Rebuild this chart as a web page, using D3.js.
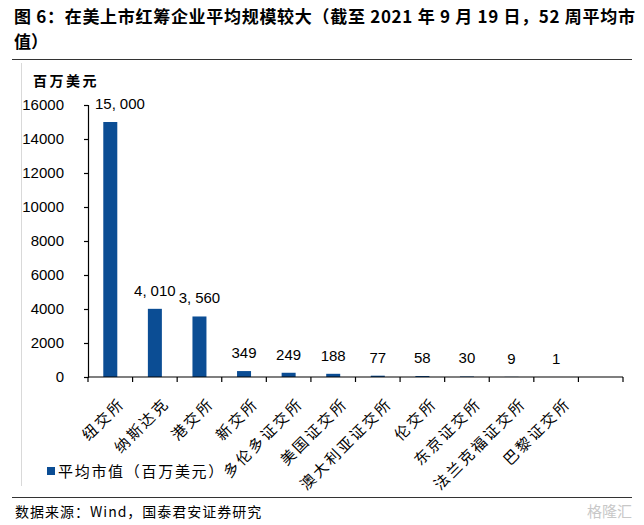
<!DOCTYPE html>
<html><head><meta charset="utf-8">
<script src="https://cdn.jsdelivr.net/npm/d3@7"></script>
<style>
body{margin:0;background:#fff;}
svg{display:block;}
</style></head>
<body><svg id="c" width="644" height="525"></svg>
<script>
const categories = ["纽交所","纳斯达克","港交所","新交所","多伦多证交所","美国证交所","澳大利亚证交所","伦交所","东京证交所","法兰克福证交所","巴黎证交所"];
const values = [15000, 4010, 3560, 349, 249, 188, 77, 58, 30, 9, 1];
const valueLabels = ["15,000","4,010","3,560","349","249","188","77","58","30","9","1"];
const yTicks = [0,2000,4000,6000,8000,10000,12000,14000,16000];
const slots = categories.concat([""]);
const titleLine1 = "图 6：在美上市红筹企业平均规模较大（截至 2021 年 9 月 19 日，52 周平均市";
const titleLine2 = "值）";
const unitLabel = "百万美元";
const legendLabel = "平均市值（百万美元）";
const sourceText = "数据来源：Wind，国泰君安证券研究";

const svg = d3.select("#c");
const cjk = "'Noto Sans CJK SC', sans-serif";
const lat = "'Liberation Sans', Arial, sans-serif";
const blue = "#0b4d94";

// title
svg.append("text").attr("x",14).attr("y",23).attr("font-family",cjk).attr("font-weight","bold")
  .attr("font-size",17).attr("letter-spacing",0.7).attr("fill","#000").text(titleLine1);
svg.append("text").attr("x",14).attr("y",48).attr("font-family",cjk).attr("font-weight","bold")
  .attr("font-size",17).attr("fill","#000").text(titleLine2);
svg.append("line").attr("x1",12).attr("x2",632).attr("y1",59.5).attr("y2",59.5).attr("stroke","#333").attr("stroke-width",1.2);
svg.append("line").attr("x1",12).attr("x2",632).attr("y1",497.5).attr("y2",497.5).attr("stroke","#333").attr("stroke-width",1.2);
svg.append("line").attr("x1",21.5).attr("x2",21.5).attr("y1",63).attr("y2",486).attr("stroke","#d9d9d9").attr("stroke-width",1);

// scales
const x0 = 88, x1 = 623;
const xSlot = d3.scaleBand().domain(slots).range([x0,x1]).padding(0);
const xBar = d3.scaleBand().domain(slots).range([x0,x1]).paddingInner(0.686).paddingOuter(0.343);
const y = d3.scaleLinear().domain([0,16000]).range([377,105]);

// y axis
const gy = svg.append("g").attr("transform",`translate(${x0},0)`)
  .call(d3.axisLeft(y).tickValues(yTicks).tickFormat(d3.format("d")).tickSizeOuter(0).tickSize(4).tickPadding(20));
gy.select(".domain").attr("stroke","#000").attr("stroke-width",1.2);
gy.selectAll(".tick line").attr("stroke","#000").attr("stroke-width",1.2);
gy.selectAll(".tick text").attr("font-family",lat).attr("font-size",15).attr("fill","#000");

svg.append("text").attr("x",33).attr("y",86).attr("font-family",cjk).attr("font-weight","bold")
  .attr("font-size",14).attr("fill","#000").attr("letter-spacing",2.5).text(unitLabel);

// bars
svg.append("g").selectAll("rect").data(categories).join("rect")
  .attr("x",d=>xBar(d)).attr("width",xBar.bandwidth())
  .attr("y",(d,i)=>y(values[i])).attr("height",(d,i)=>y(0)-y(values[i]))
  .attr("fill",blue);

// value labels (comma rendered with extra spacing, like the source)
const lbl = svg.append("g").selectAll("text").data(categories).join("text")
  .attr("x",d=>xBar(d)+xBar.bandwidth()/2).attr("y",(d,i)=>y(values[i])-13)
  .attr("text-anchor","middle").attr("font-family",lat).attr("font-size",15).attr("fill","#000");
lbl.each(function(d,i){
  const parts = valueLabels[i].split(",");
  const t = d3.select(this);
  parts.forEach((p,k)=>{
    if(k>0){ t.append("tspan").text(","); t.append("tspan").attr("dx",4).text(p); }
    else t.append("tspan").text(p);
  });
});
// keep labels clear of the y axis
lbl.each(function(){
  const bb = this.getBBox();
  const minLeft = x0 + 7;
  if (bb.x < minLeft) d3.select(this).attr("x", +d3.select(this).attr("x") + (minLeft - bb.x));
});

// x axis
const gx = svg.append("g");
gx.append("line").attr("x1",x0).attr("x2",x1).attr("y1",y(0)).attr("y2",y(0)).attr("stroke","#000").attr("stroke-width",1.2);
const tickPos = slots.map(d=>xSlot(d)).concat([x1]);
gx.selectAll("line.t").data(tickPos).join("line").attr("class","t")
  .attr("x1",d=>d).attr("x2",d=>d).attr("y1",y(0)).attr("y2",y(0)+5).attr("stroke","#000").attr("stroke-width",1.2);
gx.selectAll("text").data(categories).join("text")
  .attr("transform",d=>`translate(${xSlot(d)+xSlot.bandwidth()/2+8},${y(0)+20}) rotate(-45)`)
  .attr("text-anchor","end").attr("dy","0.7em").attr("font-family",cjk).attr("font-size",15)
  .attr("letter-spacing",2.5).attr("fill","#000")
  .text(d=>d);

// legend
svg.append("rect").attr("x",47).attr("y",467).attr("width",8).attr("height",8).attr("fill",blue);
svg.append("text").attr("x",58).attr("y",477).attr("font-family",cjk).attr("font-size",15).attr("letter-spacing",1.7).attr("fill","#000").text(legendLabel);

// source
svg.append("text").attr("x",15).attr("y",517).attr("font-family",cjk).attr("font-size",14).attr("letter-spacing",1).attr("fill","#000").text(sourceText);
// watermark
svg.append("text").attr("x",632).attr("y",517).attr("text-anchor","end").attr("font-family",cjk).attr("font-size",15).attr("fill","#c8c8c8").text("格隆汇");
</script></body></html>
